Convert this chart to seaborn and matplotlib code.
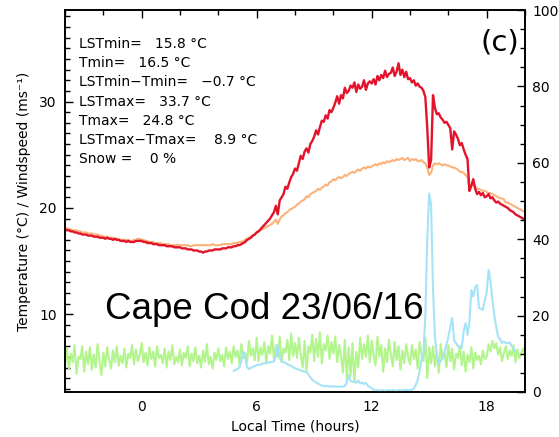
import numpy as np
import pandas as pd
import seaborn as sns
from matplotlib import pyplot as plt
from matplotlib.ticker import MultipleLocator

# time axis of the 0.1 h sampled series
hours = np.round(np.arange(-4, 20.001, 0.1), 1)
wet_hours = np.round(np.arange(4.8, 19.501, 0.1), 1)

# land surface temperature (red), one row per hour
lst = [
    18.0, 17.9, 17.9, 17.8, 17.8, 17.7, 17.7, 17.6, 17.6, 17.5,
    17.5, 17.5, 17.4, 17.4, 17.4, 17.3, 17.3, 17.3, 17.2, 17.2,
    17.2, 17.1, 17.2, 17.1, 17.1, 17.0, 17.1, 17.0, 17.0, 16.9,
    16.9, 16.9, 16.8, 16.9, 16.8, 16.8, 16.8, 16.9, 16.9, 16.9,
    16.9, 16.8, 16.8, 16.7, 16.7, 16.7, 16.6, 16.6, 16.6, 16.5,
    16.5, 16.5, 16.5, 16.4, 16.4, 16.4, 16.4, 16.3, 16.3, 16.3,
    16.3, 16.2, 16.2, 16.2, 16.1, 16.1, 16.1, 16.0, 16.0, 16.0,
    15.9, 15.9, 15.8, 15.9, 15.9, 16.0, 16.0, 16.0, 16.1, 16.1,
    16.1, 16.1, 16.2, 16.2, 16.2, 16.3, 16.3, 16.3, 16.4, 16.4,
    16.5, 16.5, 16.6, 16.7, 16.8, 17.0, 17.1, 17.2, 17.4, 17.5,
    17.7, 17.8, 18.0, 18.2, 18.4, 18.6, 18.8, 19.0, 19.3, 19.6,
    20.2, 19.4, 20.7, 21.0, 21.3, 22.0, 21.8, 22.4, 22.9, 23.2,
    23.7, 23.5, 24.2, 24.9, 24.6, 25.3, 25.6, 25.2, 26.0, 26.3,
    26.7, 27.3, 26.9, 27.6, 28.2, 28.1, 28.7, 28.4, 29.2, 29.0,
    29.4, 29.9, 30.5, 29.8, 30.6, 30.3, 31.3, 30.8, 31.0, 31.5,
    31.3, 31.8, 30.9, 31.6, 31.2, 31.4, 32.0, 31.1, 31.7, 31.9,
    31.7, 32.1, 31.6, 32.4, 32.0, 32.5, 32.2, 32.9, 32.3, 32.6,
    32.7, 33.2, 32.4, 32.8, 33.6, 32.5, 33.0, 32.3, 32.8, 32.1,
    32.2, 31.8, 32.0, 31.5, 31.7, 31.4, 31.3, 31.0, 30.4, 27.5,
    23.8, 24.5, 30.6, 29.4, 28.8, 28.9, 28.5, 28.3, 28.0, 28.1,
    27.8, 27.5, 25.5, 27.2, 26.9, 26.5, 25.9, 26.1, 25.5, 25.0,
    24.6, 21.6, 22.1, 22.7, 21.8, 21.3, 21.5, 21.2, 21.4, 21.0,
    21.1, 21.3, 20.9, 21.0, 20.7, 20.5, 20.6, 20.4, 20.3, 20.2,
    20.1, 20.0, 19.8, 19.7, 19.6, 19.4, 19.3, 19.2, 19.1, 19.0,
    18.9,
]

# air temperature (orange)
tair = [
    18.1, 18.1, 18.0, 18.0, 17.9, 17.9, 17.9, 17.8, 17.8, 17.7,
    17.7, 17.7, 17.6, 17.6, 17.6, 17.5, 17.5, 17.5, 17.4, 17.4,
    17.3, 17.3, 17.3, 17.2, 17.2, 17.2, 17.1, 17.1, 17.1, 17.0,
    17.0, 17.0, 17.0, 17.0, 16.9, 16.9, 17.0, 17.0, 17.1, 17.1,
    17.0, 17.0, 16.9, 16.9, 16.8, 16.8, 16.8, 16.7, 16.7, 16.7,
    16.7, 16.6, 16.6, 16.6, 16.6, 16.5, 16.5, 16.5, 16.5, 16.5,
    16.5, 16.5, 16.5, 16.5, 16.5, 16.4, 16.4, 16.5, 16.5, 16.5,
    16.5, 16.5, 16.5, 16.5, 16.5, 16.5, 16.5, 16.6, 16.5, 16.5,
    16.5, 16.5, 16.6, 16.6, 16.6, 16.6, 16.6, 16.6, 16.7, 16.7,
    16.7, 16.8, 16.8, 16.9, 17.0, 17.1, 17.2, 17.3, 17.4, 17.5,
    17.7, 17.8, 17.9, 18.0, 18.1, 18.2, 18.3, 18.4, 18.5, 18.7,
    18.9, 18.5, 18.9, 19.2, 19.3, 19.5, 19.6, 19.8, 19.9, 20.0,
    20.1, 20.3, 20.4, 20.6, 20.7, 20.8, 21.1, 21.0, 21.3, 21.4,
    21.5, 21.6, 21.8, 21.7, 21.9, 22.0, 22.2, 22.1, 22.4, 22.5,
    22.7, 22.6, 22.8, 22.9, 22.8, 22.9, 23.1, 23.0, 23.2, 23.3,
    23.4, 23.3, 23.5, 23.6, 23.5, 23.7, 23.8, 23.7, 23.9, 23.8,
    23.9, 24.0, 24.1, 24.0, 24.2, 24.1, 24.3, 24.2, 24.4, 24.3,
    24.4, 24.5, 24.4, 24.6, 24.5, 24.6, 24.7, 24.5, 24.6, 24.7,
    24.4, 24.6, 24.5, 24.6, 24.4, 24.4, 24.5, 24.3, 24.2, 23.8,
    23.1, 23.3, 24.0, 24.2, 24.1, 24.2, 24.1, 24.0, 24.1, 24.0,
    24.0, 23.9, 23.8, 23.8, 23.7, 23.6, 23.4, 23.4, 23.3, 23.1,
    22.9, 21.7, 22.0, 22.3, 22.0, 21.8, 21.8, 21.7, 21.6, 21.6,
    21.5, 21.4, 21.4, 21.3, 21.2, 21.1, 21.0, 20.9, 20.9, 20.8,
    20.5, 20.5, 20.4, 20.3, 20.2, 20.1, 20.0, 19.9, 19.8, 19.7,
    19.6,
]

# windspeed (green)
wind = [
    5.2, 6.8, 4.9, 6.3, 5.5, 7.1, 4.4, 6.0, 5.8, 7.0,
    4.6, 6.5, 5.3, 6.9, 4.8, 6.2, 5.0, 7.2, 5.6, 4.3,
    6.4, 5.1, 6.9, 5.7, 4.9, 6.6, 5.5, 7.0, 5.2, 6.1,
    5.4, 6.8, 5.0, 6.3, 5.9, 7.1, 5.3, 6.7, 5.6, 6.2,
    7.3, 5.5, 6.4, 5.2, 6.9, 5.8, 6.5, 5.1, 7.0, 5.9,
    6.2, 5.4, 6.8, 5.0, 6.5, 5.7, 7.1, 5.3, 6.0, 5.5,
    6.7, 5.2, 6.4, 5.9, 7.0, 5.1, 6.3, 5.6, 6.9, 5.4,
    6.1, 5.0, 6.6, 5.5, 7.2, 5.3, 6.0, 4.9, 6.4, 5.7,
    6.8, 5.6, 6.2, 5.1, 6.9, 5.8, 6.5, 5.4, 7.0, 6.0,
    6.6, 5.3, 7.2, 5.9, 6.4, 5.5, 7.5, 6.1, 6.8, 5.7,
    7.8, 5.6, 6.9, 6.2, 7.4, 5.4, 7.0, 6.3, 8.0, 5.8,
    7.1, 6.0, 7.9, 5.5, 6.8, 6.4, 7.6, 5.7, 8.2, 6.1,
    7.3, 5.9, 7.8, 6.2, 5.0, 7.5, 4.6, 7.0, 6.4, 8.1,
    5.6, 7.7, 6.0, 8.3, 5.4, 7.2, 6.6, 8.0, 5.8, 7.4,
    6.3, 7.9, 5.5, 7.1, 6.1, 4.5, 7.6, 3.8, 6.9, 4.2,
    7.3, 3.6, 6.5, 5.0, 7.8, 5.8, 7.2, 6.0, 8.0, 5.5,
    7.5, 6.2, 5.2, 7.9, 6.0, 7.1, 4.6, 6.8, 5.5, 7.6,
    6.3, 5.1, 7.4, 5.7, 7.0, 4.8, 6.6, 5.4, 7.2, 6.0,
    5.3, 7.1, 5.8, 6.7, 4.9, 7.4, 6.2, 5.6, 7.8, 4.0,
    6.9, 5.4, 7.0, 5.1, 6.6, 4.5, 7.2, 5.8, 6.4, 5.0,
    7.1, 5.6, 6.8, 4.8, 6.3, 5.9, 7.0, 5.2, 6.5, 4.6,
    6.2, 5.5, 6.9, 4.9, 6.4, 5.7, 6.1, 5.3, 6.6, 5.8,
    6.0, 7.2, 6.5, 7.5, 6.8, 7.3, 6.2, 6.9, 5.6, 6.4,
    7.0, 5.8, 6.6, 6.1, 7.1, 5.5, 6.7, 5.9, 6.3, 6.8,
    6.2,
]

# right axis series (light blue), from 4.8 h to 19.5 h
wet = [
    5.5, 5.8,
    6.0, 6.5, 8.0, 10.5, 9.0, 6.5, 6.0, 6.3, 6.6, 6.8,
    7.0, 7.2, 7.1, 7.4, 7.6, 7.5, 7.8, 7.7, 7.9, 8.0,
    9.5, 12.3, 9.0, 8.0, 7.8, 7.6, 7.3, 7.0, 6.8, 6.5,
    6.2, 6.0, 5.9, 5.6, 5.5, 5.4, 5.2, 4.6, 3.8, 3.2,
    2.8, 2.5, 2.2, 1.9, 1.7, 1.6, 1.5, 1.5, 1.4, 1.5,
    1.4, 1.5, 1.4, 1.3, 1.5, 1.4, 1.6, 2.5, 4.4, 3.0,
    2.6, 2.8, 2.4, 3.0, 2.2, 2.5, 2.1, 2.4, 1.6, 1.3,
    1.0, 0.6, 0.4, 0.5, 0.3, 0.4, 0.5, 0.3, 0.4, 0.5,
    0.4, 0.5, 0.4, 0.3, 0.5, 0.4, 0.5, 0.4, 0.6, 0.5,
    0.5, 0.6, 0.9, 1.8, 3.1, 5.5, 8.4, 10.0, 20.0, 40.0,
    52.0, 49.0, 27.0, 14.4, 9.5, 7.6, 8.0, 9.0, 10.5, 12.5,
    14.4, 17.0, 19.4, 13.6, 12.8, 12.0, 11.8, 11.5, 16.0, 18.0,
    15.0, 18.5, 26.7, 25.0, 27.5, 28.0, 22.0, 21.8, 21.5, 24.0,
    26.0, 32.0, 29.0, 24.0, 20.0, 17.0, 14.4, 13.8, 12.8, 13.2,
    12.8, 12.8, 13.0, 12.0, 11.5, 10.5,
]

stats_lines = [
    'LSTmin=   15.8 \u00b0C',
    'Tmin=   16.5 \u00b0C',
    'LSTmin\u2212Tmin=   \u22120.7 \u00b0C',
    'LSTmax=   33.7 \u00b0C',
    'Tmax=   24.8 \u00b0C',
    'LSTmax\u2212Tmax=    8.9 \u00b0C',
    'Snow =    0 %',
]

sns.set_style('white')
plt.rcParams['font.family'] = ['DejaVu Sans']
plt.rcParams.update({
    'text.color': 'black',
    'axes.labelcolor': 'black',
    'xtick.color': 'black',
    'ytick.color': 'black',
})

temp_df = pd.DataFrame({'hour': hours, 'lst': lst, 'tair': tair, 'wind': wind})
wet_df = pd.DataFrame({'hour': wet_hours, 'wet': wet})

fig = plt.figure(figsize=(5.59, 4.37), dpi=100)
ax = fig.add_axes([0.1163, 0.103, 0.8229, 0.874])
ax2 = ax.twinx()

sns.lineplot(data=temp_df, x='hour', y='wind', color='#B2F58C', linewidth=1.5,
             estimator=None, ax=ax)
sns.lineplot(data=temp_df, x='hour', y='tair', color='#FBB27A', linewidth=1.5,
             estimator=None, ax=ax)
sns.lineplot(data=temp_df, x='hour', y='lst', color='#E2132B', linewidth=1.7,
             estimator=None, ax=ax)
sns.lineplot(data=wet_df, x='hour', y='wet', color='#A6E3F6', linewidth=1.5,
             estimator=None, ax=ax2)

ax.set_xlim(-4, 20)
ax.set_ylim(2.7, 38.6)
ax2.set_ylim(0, 100)

ax.xaxis.set_major_locator(MultipleLocator(6))
ax.xaxis.set_minor_locator(MultipleLocator(2))
ax.yaxis.set_major_locator(MultipleLocator(10))
ax.yaxis.set_minor_locator(MultipleLocator(1))
ax2.yaxis.set_major_locator(MultipleLocator(20))
ax2.yaxis.set_minor_locator(MultipleLocator(5))

ax.tick_params(which='both', direction='in', top=True, right=False,
               labelsize=10, width=1.0, pad=6)
ax.tick_params(which='major', length=6)
ax.tick_params(which='minor', length=3.5)
ax2.tick_params(which='both', direction='in', labelsize=10, width=1.0, pad=5)
ax2.tick_params(which='major', length=6)
ax2.tick_params(which='minor', length=3.5)

for a in (ax, ax2):
    for sp in a.spines.values():
        sp.set_linewidth(1.2)
        sp.set_color('black')

ax.set_xlabel('Local Time (hours)', fontsize=10, labelpad=4)
ax.set_ylabel('Temperature (\u00b0C) / Windspeed (ms\u207b\u00b9)', fontsize=10,
              labelpad=6)
ax2.set_ylabel('')

for i, line in enumerate(stats_lines):
    ax.text(0.031, 0.911 - i * 0.0503, line, transform=ax.transAxes,
            fontsize=10, va='center', ha='left')

ax.text(0.945, 0.915, '(c)', transform=ax.transAxes, fontsize=21,
        va='center', ha='center')
ax.text(0.087, 0.19, 'Cape Cod 23/06/16', transform=ax.transAxes,
        fontsize=26.5, family='Liberation Sans', va='baseline', ha='left')

fig.savefig('out.png', dpi=100)
